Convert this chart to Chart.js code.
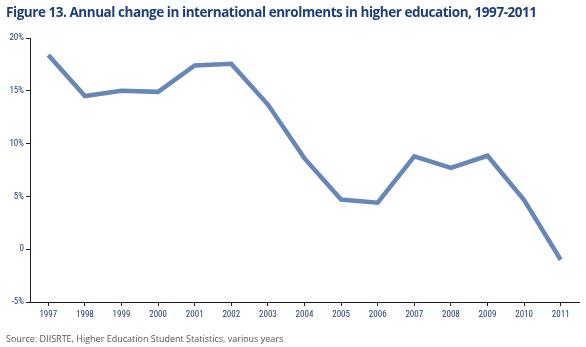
<!DOCTYPE html>
<html>
<head>
<meta charset="utf-8">
<script src="https://cdn.jsdelivr.net/npm/chart.js@4"></script>
<style>
  html, body { margin: 0; padding: 0; background: #fff; }
  #wrap { position: relative; width: 586px; height: 347px; overflow: hidden; }
  #title {
    position: absolute; left: 6px; top: 3px;
    font-family: "Open Sans", sans-serif; font-weight: 700; font-size: 13.5px;
    color: #1d3f73; letter-spacing: -0.45px; white-space: nowrap;
  }
  #source {
    position: absolute; left: 6px; top: 332px;
    font-family: "Open Sans", sans-serif; font-size: 9px; color: #555;
    white-space: nowrap;
  }
  #chartBox { position: absolute; left: 0; top: 0; width: 586px; height: 347px; }
</style>
</head>
<body>
<div id="wrap">
  <div id="chartBox"><canvas id="enrolChart"></canvas></div>
  <div id="title">Figure 13. Annual change in international enrolments in higher education, 1997-2011</div>
  <div id="source">Source: DIISRTE, Higher Education Student Statistics, various years</div>
</div>
<script>
const years = ["1997", "1998", "1999", "2000", "2001", "2002", "2003", "2004",
               "2005", "2006", "2007", "2008", "2009", "2010", "2011"];

// annual % change in international enrolments
const changePct = [18.4, 14.5, 15.0, 14.9, 17.4, 17.55, 13.7, 8.6,
                   4.7, 4.4, 8.8, 7.7, 8.85, 4.65, -1.0];

const yTicks = [-5, 0, 5, 10, 15, 20];

const ctx = document.getElementById("enrolChart").getContext("2d");

new Chart(ctx, {
    type: "line",

    data: {
        labels: years,
        datasets: [{
            label: "Annual change",
            data: changePct,
            borderColor: "#6787b6",
            borderWidth: 4.5,
            pointRadius: 0,
            tension: 0,
            fill: false
        }]
    },

    options: {
        responsive: true,
        maintainAspectRatio: false,
        animation: false,

        layout: {
            padding: { top: 38, right: 7, bottom: 25, left: 0 }
        },

        plugins: {
            legend: { display: false },
            tooltip: { enabled: false }
        },

        scales: {
            x: {
                offset: true,
                afterFit: function (scale) { scale.height = 20; },
                grid: {
                    drawOnChartArea: false,
                    drawTicks: true,
                    tickLength: 4,
                    color: "#222"
                },
                border: { display: true, color: "#222", width: 1 },
                ticks: {
                    color: "#1d3f73",
                    padding: 3,
                    maxRotation: 0,
                    autoSkip: false,
                    font: { family: "'Liberation Sans Narrow', 'Roboto Condensed', Roboto", size: 9 }
                }
            },

            y: {
                min: yTicks[0],
                max: yTicks[yTicks.length - 1],
                afterFit: function (scale) { scale.width = 30; },
                afterBuildTicks: function (scale) {
                    scale.ticks = yTicks.map(v => ({ value: v }));
                },
                grid: {
                    drawOnChartArea: false,
                    drawTicks: true,
                    tickLength: 4,
                    color: "#222"
                },
                border: { display: true, color: "#222", width: 1 },
                ticks: {
                    color: "#1d3f73",
                    padding: 2,
                    font: { family: "'Liberation Sans Narrow', 'Roboto Condensed', Roboto", size: 9 },
                    callback: function (value) {
                        return value === 0 ? "0" : value + "%";
                    }
                }
            }
        }
    }
});
</script>
</body>
</html>
